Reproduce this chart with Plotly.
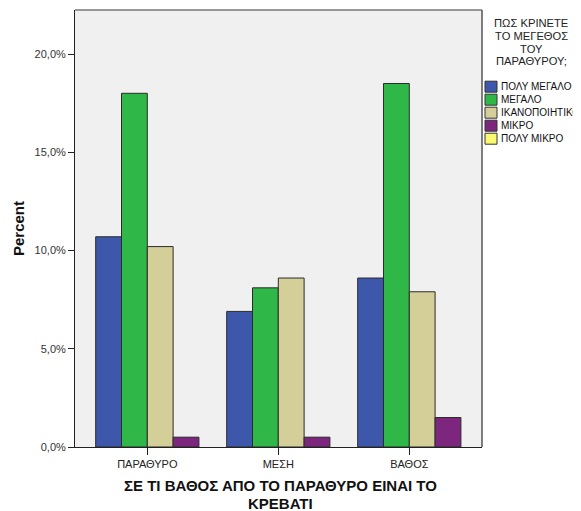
import plotly.graph_objects as go

categories = ["ΠΑΡΑΘΥΡΟ", "ΜΕΣΗ", "ΒΑΘΟΣ"]
series_names = ["ΠΟΛΥ ΜΕΓΑΛΟ", "ΜΕΓΑΛΟ", "ΙΚΑΝΟΠΟΙΗΤΙΚΟ", "ΜΙΚΡΟ", "ΠΟΛΥ ΜΙΚΡΟ"]
poly_megalo = [10.7, 6.9, 8.6]
megalo = [18.0, 8.1, 18.5]
ikanopoiitiko = [10.2, 8.6, 7.9]
mikro = [0.5, 0.5, 1.5]
poly_mikro = [0.0, 0.0, 0.0]
tick_vals = [0, 5, 10, 15, 20]
tick_labels = ["0,0%", "5,0%", "10,0%", "15,0%", "20,0%"]
legend_title_lines = ["ΠΩΣ ΚΡΙΝΕΤΕ", "ΤΟ ΜΕΓΕΘΟΣ", "ΤΟΥ", "ΠΑΡΑΘΥΡΟΥ;"]
x_title_lines = ["ΣΕ ΤΙ ΒΑΘΟΣ ΑΠΟ ΤΟ ΠΑΡΑΘΥΡΟ ΕΙΝΑΙ ΤΟ", "ΚΡΕΒΑΤΙ"]

colors = ["#3D58AA", "#2FB848", "#D4CF98", "#7C277D", "#FBF871"]
values = [poly_megalo, megalo, ikanopoiitiko, mikro, poly_mikro]

OFF = 8  # page body margin offset
W, H = 581 - OFF, 511 - OFF
L, R, T, B = 75 - OFF, 482 - OFF, 10 - OFF, 447 - OFF  # plot area in figure pixels
FONT = "Liberation Sans, Arial, sans-serif"


def px(x):
    # x given in window pixels
    return (x - OFF - L) / (R - L)


def py(y):
    return (B - (y - OFF)) / (B - T)


fig = go.Figure()
w = 0.197
for i, (name, vals, col) in enumerate(zip(series_names, values, colors)):
    fig.add_trace(go.Bar(
        x=categories,
        y=[v if v > 0 else None for v in vals],
        name=name,
        width=w,
        offset=-2 * w + i * w,
        marker=dict(color=col, line=dict(color="#2b2b2b", width=1)),
        showlegend=False,
    ))

shapes = [
    dict(type="line", xref="paper", yref="paper", x0=0, x1=1, y0=1, y1=1,
         line=dict(color="#777", width=1.5)),
    dict(type="line", xref="paper", yref="paper", x0=1, x1=1, y0=0, y1=1,
         line=dict(color="#555", width=1.5)),
]
annotations = []

# legend title
for k, line in enumerate(legend_title_lines):
    annotations.append(dict(
        text=line, xref="paper", yref="paper", x=px(531), y=py(23 + 12.8 * k),
        xanchor="center", yanchor="middle", showarrow=False,
        font=dict(family=FONT, size=11.2, color="#222"),
    ))

# legend items
for k, (name, col) in enumerate(zip(series_names, colors)):
    yc = 86.7 + 13 * k
    shapes.append(dict(
        type="rect", xref="paper", yref="paper",
        x0=px(485), x1=px(497), y0=py(yc - 5.5), y1=py(yc + 5.5),
        fillcolor=col, line=dict(color="#333", width=1),
    ))
    annotations.append(dict(
        text=name, xref="paper", yref="paper", x=px(498.5), y=py(yc),
        xanchor="left", yanchor="middle", showarrow=False,
        font=dict(family=FONT, size=10, color="#111"),
    ))

# x axis title (two lines)
for k, line in enumerate(x_title_lines):
    annotations.append(dict(
        text="<b>" + line + "</b>", xref="paper", yref="paper",
        x=px(280), y=py(485.7 + 17.3 * k),
        xanchor="center", yanchor="middle", showarrow=False,
        font=dict(family=FONT, size=15, color="#111"),
    ))

fig.update_layout(
    width=W, height=H,
    margin=dict(l=L, r=W - R, t=T, b=H - B, autoexpand=False),
    paper_bgcolor="white",
    plot_bgcolor="#F0F0F0",
    barmode="overlay",
    font=dict(family=FONT, size=11, color="#222"),
    showlegend=False,
    xaxis=dict(
        range=[-0.552, 2.555],
        showline=True, linecolor="#222", linewidth=1,
        ticks="outside", ticklen=7, tickcolor="#222",
        showgrid=False, zeroline=False,
        tickfont=dict(size=11, color="#222"),
    ),
    yaxis=dict(
        range=[0, 22.24],
        showline=True, linecolor="#222", linewidth=1,
        ticks="outside", ticklen=6, tickcolor="#222",
        tickvals=tick_vals, ticktext=tick_labels,
        showgrid=False, zeroline=False,
        tickfont=dict(size=11, color="#333"),
        title=dict(text="<b>Percent</b>", font=dict(size=15, color="#111"), standoff=6),
    ),
    shapes=shapes,
    annotations=annotations,
)

fig.write_html("out.html")
